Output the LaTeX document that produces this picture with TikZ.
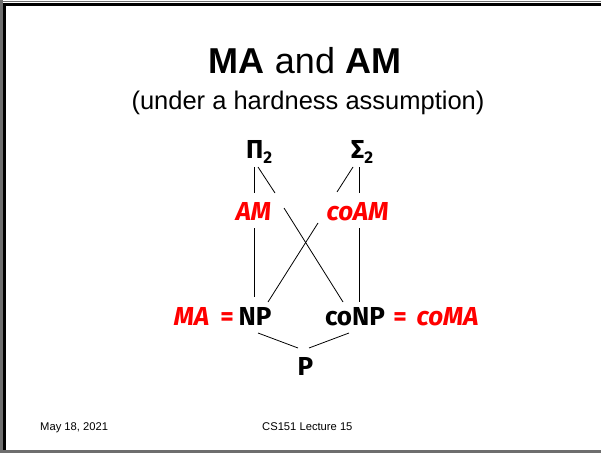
\documentclass[tikz,border=0pt]{standalone}
\usepackage{fontspec}
\setmainfont{Liberation Sans}
\newfontfamily\dfont{Fira Sans}
\definecolor{slred}{RGB}{255,0,0}
\definecolor{edgegray}{RGB}{110,110,110}
\begin{document}
\begin{tikzpicture}[x=1pt,y=-1pt,
  cls/.style={font=\dfont\bfseries\fontsize{26}{26}\selectfont, inner sep=0pt, anchor=base},
  redcls/.style={cls, text=slred, font=\dfont\bfseries\itshape\fontsize{26}{26}\selectfont},
  eqsign/.style={cls, text=slred},
  conn/.style={line width=0.8pt, black},
  foot/.style={font=\fontsize{11.2}{12}\selectfont, inner sep=0pt, anchor=base}]
\useasboundingbox (0,0) rectangle (601,452);
\fill[white] (0,0) rectangle (601,452);
% slide frame
\draw[edgegray, line width=2.6pt] (1.3,0) -- (1.3,452);
\draw[edgegray, line width=2.6pt] (0,451.4) -- (601,451.4);
\draw[edgegray, line width=1.5pt] (0,1.6) -- (601,1.6);
\draw[black, line width=3pt] (3,5) -- (601,5);
\draw[black, line width=3pt] (4.5,3.5) -- (4.5,450);
% titles
\node[font=\fontsize{36}{40}\selectfont, inner sep=0pt, anchor=base] (title) at (305,73) {\textbf{MA} and \textbf{AM}};
\node[font=\fontsize{25.5}{28}\selectfont, inner sep=0pt, anchor=base] (sub) at (308,109) {(under a hardness assumption)};
% classes
\node[cls, anchor=base west] (Pi) at (246,158) {Π\raisebox{-5pt}{\fontsize{17}{17}\selectfont 2}};
\node[cls, anchor=base west] (Sig) at (351,158) {Σ\raisebox{-5pt}{\fontsize{17}{17}\selectfont 2}};
\node[redcls] (AM) at (253.5,220) {AM};
\node[redcls] (coAM) at (357.5,220) {coAM};
\node[cls] (NP) at (255,325) {NP};
\node[cls] (coNP) at (355,325) {coNP};
\node[redcls] (MA) at (191.5,325) {MA};
\node[eqsign] (eq1) at (227,325) {=};
\node[eqsign] (eq2) at (400,325) {=};
\node[redcls] (coMA) at (447.5,325) {coMA};
\node[cls] (P) at (305.5,375) {P};
% connector end points
\coordinate (a1) at (254,167); \coordinate (a2) at (254,193);
\coordinate (b1) at (258,167); \coordinate (b2) at (275,193);
\coordinate (c1) at (284,208); \coordinate (c2) at (343,302);
\coordinate (d1) at (353,167); \coordinate (d2) at (337,192);
\coordinate (e1) at (318,223); \coordinate (e2) at (268,302);
\coordinate (f1) at (359,167); \coordinate (f2) at (359,193);
\coordinate (g1) at (254,228); \coordinate (g2) at (254,297);
\coordinate (h1) at (359,228); \coordinate (h2) at (359,302);
\coordinate (i1) at (258,333); \coordinate (i2) at (298,348);
\coordinate (j1) at (349,333); \coordinate (j2) at (309,348);
\draw[conn] (a1) -- (a2);
\draw[conn] (b1) -- (b2);
\draw[conn] (c1) -- (c2);
\draw[conn] (d1) -- (d2);
\draw[conn] (e1) -- (e2);
\draw[conn] (f1) -- (f2);
\draw[conn] (g1) -- (g2);
\draw[conn] (h1) -- (h2);
\draw[conn] (i1) -- (i2);
\draw[conn] (j1) -- (j2);
% footer
\node[foot, anchor=base west] (date) at (40,430) {May 18, 2021};
\node[foot, anchor=base west] (lect) at (262,430) {CS151 Lecture 15};
\end{tikzpicture}
\end{document}
